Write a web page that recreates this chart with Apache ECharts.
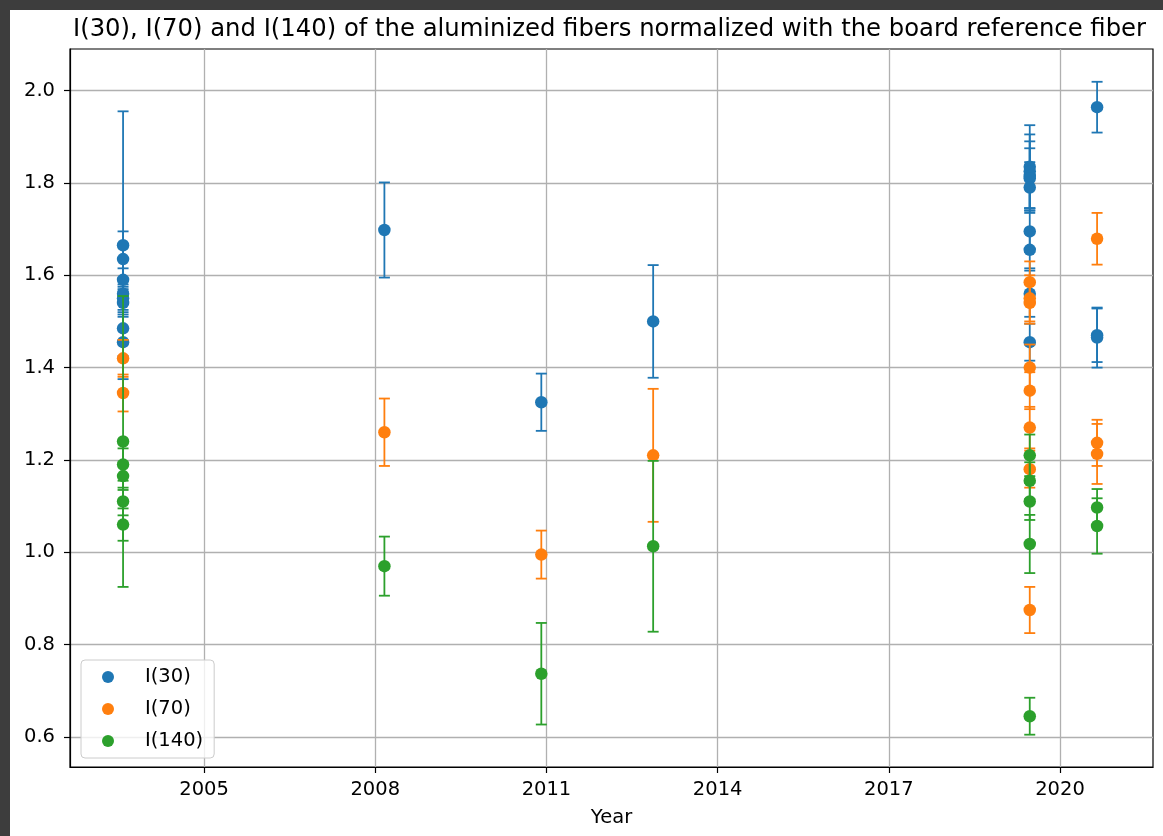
<!DOCTYPE html>
<html>
<head>
<meta charset="utf-8">
<script src="https://cdn.jsdelivr.net/npm/echarts@6/dist/echarts.min.js"></script>
<style>
  html, body { margin: 0; padding: 0; background: #3d3d3d; width: 1163px; height: 836px; overflow: hidden; }
  #frame { position: absolute; left: 10px; top: 10px; width: 1153px; height: 826px; background: #ffffff; }
  #chart { width: 1153px; height: 826px; }
</style>
</head>
<body>
<div id="frame"><div id="chart"></div></div>
<script>
// Tick positions
const xTicks = [2005, 2008, 2011, 2014, 2017, 2020];
const yTicks = [0.6, 0.8, 1.0, 1.2, 1.4, 1.6, 1.8, 2.0];

// Measurements: [year, normalized intensity, error]
const i30 = [
  [2003.58, 1.665, 0.29], [2003.58, 1.635, 0.06], [2003.58, 1.59, 0.025], [2003.58, 1.56, 0.035],
  [2003.58, 1.55, 0.03], [2003.58, 1.54, 0.03], [2003.58, 1.485, 0.03], [2003.58, 1.455, 0.03],
  [2008.16, 1.698, 0.103],
  [2010.91, 1.325, 0.062],
  [2012.87, 1.50, 0.122],
  [2019.47, 1.835, 0.09], [2019.47, 1.825, 0.08], [2019.47, 1.815, 0.075], [2019.47, 1.81, 0.065],
  [2019.47, 1.79, 0.055], [2019.47, 1.695, 0.045], [2019.47, 1.655, 0.04], [2019.47, 1.56, 0.05],
  [2019.47, 1.455, 0.04],
  [2020.65, 1.964, 0.055], [2020.65, 1.47, 0.058], [2020.65, 1.465, 0.065]
];
const i70 = [
  [2003.58, 1.42, 0.04], [2003.58, 1.345, 0.04],
  [2008.16, 1.26, 0.073],
  [2010.91, 0.995, 0.052],
  [2012.87, 1.21, 0.144],
  [2019.47, 1.585, 0.045], [2019.47, 1.55, 0.05], [2019.47, 1.54, 0.045], [2019.47, 1.40, 0.05],
  [2019.47, 1.35, 0.04], [2019.47, 1.27, 0.045], [2019.47, 1.18, 0.04], [2019.47, 0.875, 0.05],
  [2020.65, 1.679, 0.056], [2020.65, 1.237, 0.05], [2020.65, 1.213, 0.065]
];
const i140 = [
  [2003.58, 1.24, 0.315], [2003.58, 1.19, 0.035], [2003.58, 1.165, 0.03], [2003.58, 1.11, 0.03],
  [2003.58, 1.06, 0.035],
  [2008.16, 0.97, 0.064],
  [2010.91, 0.737, 0.11],
  [2012.87, 1.013, 0.185],
  [2019.47, 1.21, 0.045], [2019.47, 1.155, 0.04], [2019.47, 1.11, 0.04], [2019.47, 1.018, 0.063],
  [2019.47, 0.645, 0.04],
  [2020.65, 1.097, 0.04], [2020.65, 1.057, 0.06]
];

const FONT = 'DejaVu Sans';
const FS = 19.5;

function errorBars(name, data, color, z) {
  return {
    type: 'custom',
    name: name,
    data: data,
    z: z,
    silent: true,
    encode: { x: 0, y: 1 },
    renderItem: function (params, api) {
      const x = api.value(0), y = api.value(1), e = api.value(2);
      const hi = api.coord([x, y + e]);
      const lo = api.coord([x, y - e]);
      const cap = 5.5;
      const style = { stroke: color, lineWidth: 1.8, fill: null };
      return {
        type: 'group',
        children: [
          { type: 'line', shape: { x1: hi[0], y1: hi[1], x2: lo[0], y2: lo[1] }, style: style },
          { type: 'line', shape: { x1: hi[0] - cap, y1: hi[1], x2: hi[0] + cap, y2: hi[1] }, style: style },
          { type: 'line', shape: { x1: lo[0] - cap, y1: lo[1], x2: lo[0] + cap, y2: lo[1] }, style: style }
        ]
      };
    }
  };
}

function points(name, data, color, z) {
  return {
    type: 'scatter',
    name: name,
    data: data.map(d => [d[0], d[1]]),
    z: z,
    symbol: 'circle',
    symbolSize: 12.5,
    itemStyle: { color: color, opacity: 1 },
    emphasis: { disabled: true }
  };
}

const C30 = '#1f77b4', C70 = '#ff7f0e', C140 = '#2ca02c';

const chart = echarts.init(document.getElementById('chart'), null, { renderer: 'canvas' });
chart.setOption({
  animation: false,
  backgroundColor: '#ffffff',
  textStyle: { fontFamily: FONT },
  graphic: [{
    type: 'text',
    x: 599.5,
    y: 20,
    z: 100,
    style: {
      text: 'I(30), I(70) and I(140) of the aluminized fibers normalized with the board reference fiber',
      fontFamily: FONT,
      fontSize: 24.3,
      fill: '#000',
      textAlign: 'center',
      textVerticalAlign: 'middle'
    }
  }],
  grid: {
    left: 60, right: 10, top: 39, bottom: 69,
    show: true, borderColor: '#000', borderWidth: 1.2, backgroundColor: 'transparent'
  },
  legend: {
    orient: 'vertical',
    left: 71, top: 650,
    padding: [7, 11, 7, 21],
    itemGap: 12,
    itemWidth: 12, itemHeight: 12,
    icon: 'circle',
    data: ['I(30)', 'I(70)', 'I(140)'],
    backgroundColor: 'rgba(255,255,255,0.8)',
    borderColor: '#cccccc', borderWidth: 1, borderRadius: 4,
    selectedMode: false,
    z: 50,
    formatter: n => '{t|' + n + '}',
    textStyle: {
      fontFamily: FONT, fontSize: FS, color: '#000',
      rich: { t: { fontFamily: FONT, fontSize: FS, color: '#000', lineHeight: 18, padding: [0, 0, 0, 26] } }
    }
  },
  xAxis: {
    type: 'value',
    min: 2002.65, max: 2021.63,
    name: 'Year', nameLocation: 'middle', nameGap: 41,
    nameTextStyle: { fontFamily: FONT, fontSize: FS, color: '#000' },
    axisLine: { show: true, onZero: false, lineStyle: { color: '#000', width: 1.2 } },
    axisTick: { show: true, customValues: xTicks, length: 6, lineStyle: { color: '#000', width: 1.2 } },
    axisLabel: { customValues: xTicks, margin: 13, fontFamily: FONT, fontSize: FS, color: '#000',
      formatter: v => String(Math.round(v)) },
    splitLine: { show: true, lineStyle: { color: '#b0b0b0', width: 1.3 } }
  },
  yAxis: {
    type: 'value',
    min: 0.535, max: 2.09,
    axisLine: { show: true, onZero: false, lineStyle: { color: '#000', width: 1.2 } },
    axisTick: { show: true, customValues: yTicks, length: 6, lineStyle: { color: '#000', width: 1.2 } },
    axisLabel: { customValues: yTicks, margin: 15, fontFamily: FONT, fontSize: FS, color: '#000',
      formatter: v => v.toFixed(1) },
    splitLine: { show: true, lineStyle: { color: '#b0b0b0', width: 1.3 } }
  },
  series: [
    errorBars('I(30) error', i30, C30, 2),
    points('I(30)', i30, C30, 3),
    errorBars('I(70) error', i70, C70, 4),
    points('I(70)', i70, C70, 5),
    errorBars('I(140) error', i140, C140, 6),
    points('I(140)', i140, C140, 7)
  ]
});
</script>
</body>
</html>
